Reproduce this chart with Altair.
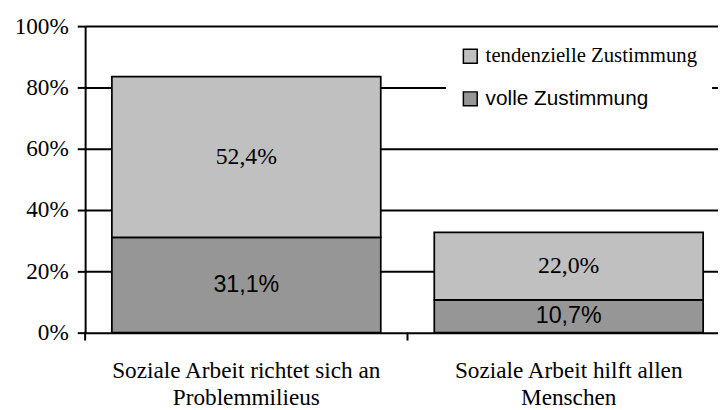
import altair as alt
import pandas as pd

categories = ["Soziale Arbeit richtet sich an\nProblemmilieus", "Soziale Arbeit hilft allen\nMenschen"]
series_names = ["tendenzielle Zustimmung", "volle Zustimmung"]
volle = [31.1, 10.7]
tendenziell = [52.4, 22.0]
colors = ["#C0C0C0", "#969696"]
y_ticks = [0, 0.2, 0.4, 0.6, 0.8, 1.0]

rows = []
for i, c in enumerate(categories):
    for s, vals, rank in [("volle Zustimmung", volle, 0), ("tendenzielle Zustimmung", tendenziell, 1)]:
        v = vals[i]
        rows.append({"cat": c, "series": s, "value": v / 100, "rank": rank,
                     "label": f"{v:.1f}".replace(".", ",") + "%"})
df = pd.DataFrame(rows)

SERIF = "Liberation Serif"
SANS = "Liberation Sans"

x_scale = alt.Scale(paddingInner=0.166, paddingOuter=0.0645, align=0.643)
x_axis = alt.Axis(labelExpr="split(datum.label, '\\n')", ticks=False, domain=False,
                  labelFont=SERIF, labelFontSize=23.5, labelColor="black",
                  labelLineHeight=28, labelPadding=26, labelLimit=400, labelAngle=0)
y_axis = alt.Axis(values=y_ticks, format=".0%", grid=True, gridColor="black", gridWidth=2,
                  domainColor="black", domainWidth=2, tickColor="black", tickWidth=2, tickSize=8,
                  labelFont=SERIF, labelFontSize=23.5, labelColor="black", labelPadding=9)

base = alt.Chart(df).transform_stack(
    stack="value", groupby=["cat"], as_=["v0", "v1"], sort=[alt.SortField("rank", order="ascending")]
).transform_calculate(mid="(datum.v0 + datum.v1) / 2")

legend = alt.Legend(
    orient="none", legendX=365, legendY=6, fillColor="white", padding=14, rowPadding=21,
    symbolType="square", symbolSize=196, symbolStrokeColor="black", symbolStrokeWidth=1.5,
    labelFont=alt.ExprRef(f"datum.label === 'volle Zustimmung' ? '{SANS}' : '{SERIF}'"),
    labelFontSize=21, labelColor="black", labelOffset=5, labelLimit=400,
)

bars = base.mark_bar(stroke="black", strokeWidth=1.75).encode(
    x=alt.X("cat:N", sort=categories, title=None, scale=x_scale, axis=x_axis),
    y=alt.Y("v0:Q", scale=alt.Scale(domain=[0, 1]), axis=y_axis, title=None),
    y2="v1:Q",
    color=alt.Color("series:N", scale=alt.Scale(domain=series_names, range=colors),
                    legend=legend, title=None),
)

text_light = base.transform_filter(alt.datum.series == "tendenzielle Zustimmung").mark_text(
    font=SERIF, fontSize=24, color="black"
).encode(x=alt.X("cat:N", sort=categories), y="mid:Q", text="label:N")

text_dark = base.transform_filter(alt.datum.series == "volle Zustimmung").mark_text(
    font=SANS, fontSize=23.5, color="black"
).encode(x=alt.X("cat:N", sort=categories), y="mid:Q", text="label:N")

one = pd.DataFrame({"k": [0]})
axis_ext = alt.Chart(one).mark_rule(color="black", strokeWidth=2).encode(
    x=alt.value(0), y=alt.value(309), y2=alt.value(318))
cat_tick = alt.Chart(one).mark_rule(color="black", strokeWidth=2).encode(
    x=alt.value(326), y=alt.value(310), y2=alt.value(318))

chart = alt.layer(bars, text_light, text_dark, axis_ext, cat_tick).properties(
    width=640, height=310,
    autosize=alt.AutoSizeParams(type="none"),
    padding={"left": 78, "top": 16, "right": 0, "bottom": 86},
).configure_view(strokeWidth=0)

chart.save("out.html", embed_options={"renderer": "svg", "actions": False})
